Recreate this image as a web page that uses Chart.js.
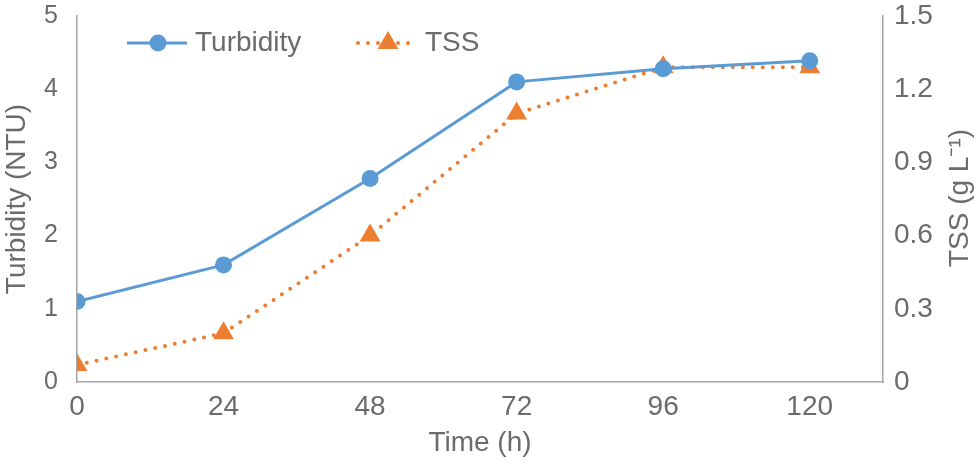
<!DOCTYPE html>
<html>
<head>
<meta charset="utf-8">
<script src="https://cdn.jsdelivr.net/npm/chart.js@4"></script>
<style>
  html, body { margin: 0; padding: 0; background: #fff; }
  #wrap { width: 976px; height: 464px; }
</style>
</head>
<body>
<div id="wrap"><canvas id="chart" width="976" height="464"></canvas></div>
<script>
// time points (h)
const hours = [0, 24, 48, 72, 96, 120];
const turbidity = [1.10, 1.60, 2.78, 4.10, 4.28, 4.39];   // NTU
const tss = [0.07, 0.20, 0.60, 1.10, 1.29, 1.29];          // g L-1
const xTicks = [0, 24, 48, 72, 96, 120];

const BLUE = '#5B9BD5';
const ORANGE = '#ED7D31';
const TEXT = '#6b6b6b';
const AXIS = '#a6a6a6';
const FONT = '"Liberation Sans", Arial, sans-serif';

// legend + right axis title drawn by hand (line + marker legend, title reads bottom-to-top)
const extrasPlugin = {
    id: 'extras',
    afterDraw(chart) {
        const ctx = chart.ctx;
        const y = 43;
        ctx.save();
        // Turbidity
        ctx.strokeStyle = BLUE;
        ctx.lineWidth = 3;
        ctx.beginPath();
        ctx.moveTo(127, y);
        ctx.lineTo(187, y);
        ctx.stroke();
        ctx.fillStyle = BLUE;
        ctx.beginPath();
        ctx.arc(158, y, 8.5, 0, Math.PI * 2);
        ctx.fill();
        // TSS
        ctx.strokeStyle = ORANGE;
        ctx.lineWidth = 4;
        ctx.lineCap = 'round';
        ctx.setLineDash([0, 10]);
        ctx.beginPath();
        ctx.moveTo(358, y);
        ctx.lineTo(414, y);
        ctx.stroke();
        ctx.setLineDash([]);
        ctx.fillStyle = ORANGE;
        const r = 12;
        ctx.beginPath();
        ctx.moveTo(388, y - r);
        ctx.lineTo(388 + r * Math.sin(Math.PI * 2 / 3), y + r / 2);
        ctx.lineTo(388 - r * Math.sin(Math.PI * 2 / 3), y + r / 2);
        ctx.closePath();
        ctx.fill();
        // texts
        ctx.fillStyle = TEXT;
        ctx.font = '28px ' + FONT;
        ctx.textBaseline = 'middle';
        ctx.fillText('Turbidity', 195, y);
        ctx.fillText('TSS', 425, y);
        // right axis title
        ctx.translate(960, 198);
        ctx.rotate(-Math.PI / 2);
        ctx.textAlign = 'center';
        ctx.fillText('TSS (g L⁻¹)', 0, 0);
        ctx.restore();
    }
};

// fixed axis box sizes so the plot area lands where the original has it
function fitVertical(width) {
    return scale => {
        scale.width = width;
        scale.paddingTop = 0;
        scale.paddingBottom = 0;
    };
}

new Chart(document.getElementById('chart'), {
    type: 'line',
    data: {
        datasets: [{
            label: 'Turbidity',
            data: hours.map((h, i) => ({ x: h, y: turbidity[i] })),
            yAxisID: 'y',
            borderColor: BLUE,
            backgroundColor: BLUE,
            borderWidth: 3,
            pointStyle: 'circle',
            pointRadius: 8.5,
            pointBorderWidth: 0,
            tension: 0
        }, {
            label: 'TSS',
            data: hours.map((h, i) => ({ x: h, y: tss[i] })),
            yAxisID: 'y2',
            borderColor: ORANGE,
            backgroundColor: ORANGE,
            borderWidth: 4,
            borderDash: [0, 10],
            borderCapStyle: 'round',
            pointStyle: 'triangle',
            pointRadius: 12,
            pointBorderWidth: 0,
            tension: 0
        }]
    },
    options: {
        responsive: false,
        animation: false,
        layout: { padding: { top: 16, left: 0, right: 0, bottom: 0 } },
        plugins: { legend: { display: false }, tooltip: { enabled: false } },
        scales: {
            x: {
                type: 'linear',
                min: 0,
                max: 132,
                afterBuildTicks(scale) {
                    scale.ticks = xTicks.map(v => ({ value: v }));
                },
                afterFit(scale) {
                    scale.height = 82;
                    scale.paddingLeft = 0;
                    scale.paddingRight = 0;
                },
                grid: { display: false, drawTicks: false },
                border: { color: AXIS, width: 1.5 },
                ticks: { color: TEXT, padding: 8, font: { family: FONT, size: 28 } },
                title: {
                    display: true, text: 'Time (h)', color: TEXT,
                    font: { family: FONT, size: 28 }, padding: { top: 0, bottom: 4 }
                }
            },
            y: {
                position: 'left',
                min: 0,
                max: 5,
                ticks: { stepSize: 1, color: TEXT, padding: 19, font: { family: FONT, size: 25 } },
                afterFit: fitVertical(77),
                grid: { display: false, drawTicks: false },
                border: { color: AXIS, width: 1.5 },
                title: {
                    display: true, text: 'Turbidity (NTU)', color: TEXT,
                    font: { family: FONT, size: 28 }, padding: { top: 0, bottom: 0 }
                }
            },
            y2: {
                position: 'right',
                min: 0,
                max: 1.5,
                ticks: {
                    stepSize: 0.3, color: TEXT, padding: 11, font: { family: FONT, size: 28 },
                    callback: v => v === 0 ? '0' : v.toFixed(1)
                },
                afterFit: fitVertical(93),
                grid: { display: false, drawTicks: false },
                border: { color: AXIS, width: 1.5 }
            }
        }
    },
    plugins: [extrasPlugin]
});
</script>
</body>
</html>
